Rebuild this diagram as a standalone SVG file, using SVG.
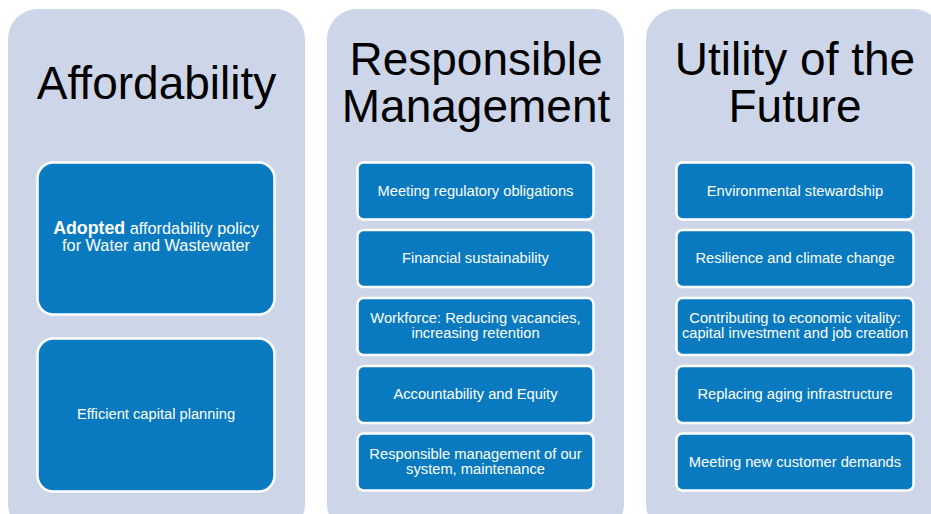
<svg xmlns="http://www.w3.org/2000/svg" width="931" height="514" viewBox="0 0 931 514">
<style>
.panel{fill:#CCD6E8}
.box{fill:#0A7AC0;stroke:#FFFFFF;stroke-width:2.5}
.title{font-family:"Liberation Sans",Arial,sans-serif;font-size:46px;fill:#000;text-anchor:middle}
.lbl{font-family:"Liberation Sans",Arial,sans-serif;font-size:14.7px;fill:#FFFFFF;text-anchor:middle}
.lg{font-size:16.3px}
.big{font-weight:bold;font-size:17.8px}
</style>
<rect width="931" height="514" fill="#FFFFFF"/>
<g id="col-affordability">
<rect class="panel" x="8" y="9" width="297" height="525" rx="30"/>
<text class="title" x="156.5" y="99">Affordability</text>
</g>
<g id="col-responsible">
<rect class="panel" x="327" y="9" width="297" height="525" rx="30"/>
<text class="title" x="476" y="75">Responsible</text>
<text class="title" x="476" y="122">Management</text>
</g>
<g id="col-utility">
<rect class="panel" x="646" y="9" width="297" height="525" rx="30"/>
<text class="title" x="795" y="75">Utility of the</text>
<text class="title" x="795" y="122">Future</text>
</g>
<g id="a1">
<rect class="box" x="37.5" y="162.5" width="237" height="152" rx="16"/>
<text class="lbl lg" x="156" y="234"><tspan class="big">Adopted</tspan> affordability policy</text>
<text class="lbl lg" x="156" y="251">for Water and Wastewater</text>
</g>
<g id="a2">
<rect class="box" x="37.5" y="338.5" width="237" height="153" rx="16"/>
<text class="lbl" x="156" y="419">Efficient capital planning</text>
</g>
<g id="r1">
<rect class="box" x="357.5" y="162.5" width="236" height="57" rx="6"/>
<text class="lbl" x="475.5" y="196">Meeting regulatory obligations</text>
</g>
<g id="r2">
<rect class="box" x="357.5" y="230" width="236" height="57" rx="6"/>
<text class="lbl" x="475.5" y="263">Financial sustainability</text>
</g>
<g id="r3">
<rect class="box" x="357.5" y="298" width="236" height="57" rx="6"/>
<text class="lbl" x="475.5" y="322.5">Workforce: Reducing vacancies,</text>
<text class="lbl" x="475.5" y="337.5">increasing retention</text>
</g>
<g id="r4">
<rect class="box" x="357.5" y="366" width="236" height="57" rx="6"/>
<text class="lbl" x="475.5" y="399">Accountability and Equity</text>
</g>
<g id="r5">
<rect class="box" x="357.5" y="433.5" width="236" height="57" rx="6"/>
<text class="lbl" x="475.5" y="458.5">Responsible management of our</text>
<text class="lbl" x="475.5" y="473.5">system, maintenance</text>
</g>
<g id="u1">
<rect class="box" x="676.5" y="162.5" width="237" height="57" rx="6"/>
<text class="lbl" x="795" y="196">Environmental stewardship</text>
</g>
<g id="u2">
<rect class="box" x="676.5" y="230" width="237" height="57" rx="6"/>
<text class="lbl" x="795" y="263">Resilience and climate change</text>
</g>
<g id="u3">
<rect class="box" x="676.5" y="298" width="237" height="57" rx="6"/>
<text class="lbl" x="795" y="322.5">Contributing to economic vitality:</text>
<text class="lbl" x="795" y="337.5">capital investment and job creation</text>
</g>
<g id="u4">
<rect class="box" x="676.5" y="366" width="237" height="57" rx="6"/>
<text class="lbl" x="795" y="399">Replacing aging infrastructure</text>
</g>
<g id="u5">
<rect class="box" x="676.5" y="433.5" width="237" height="57" rx="6"/>
<text class="lbl" x="795" y="467">Meeting new customer demands</text>
</g>
<g id="connectors"></g>
</svg>
